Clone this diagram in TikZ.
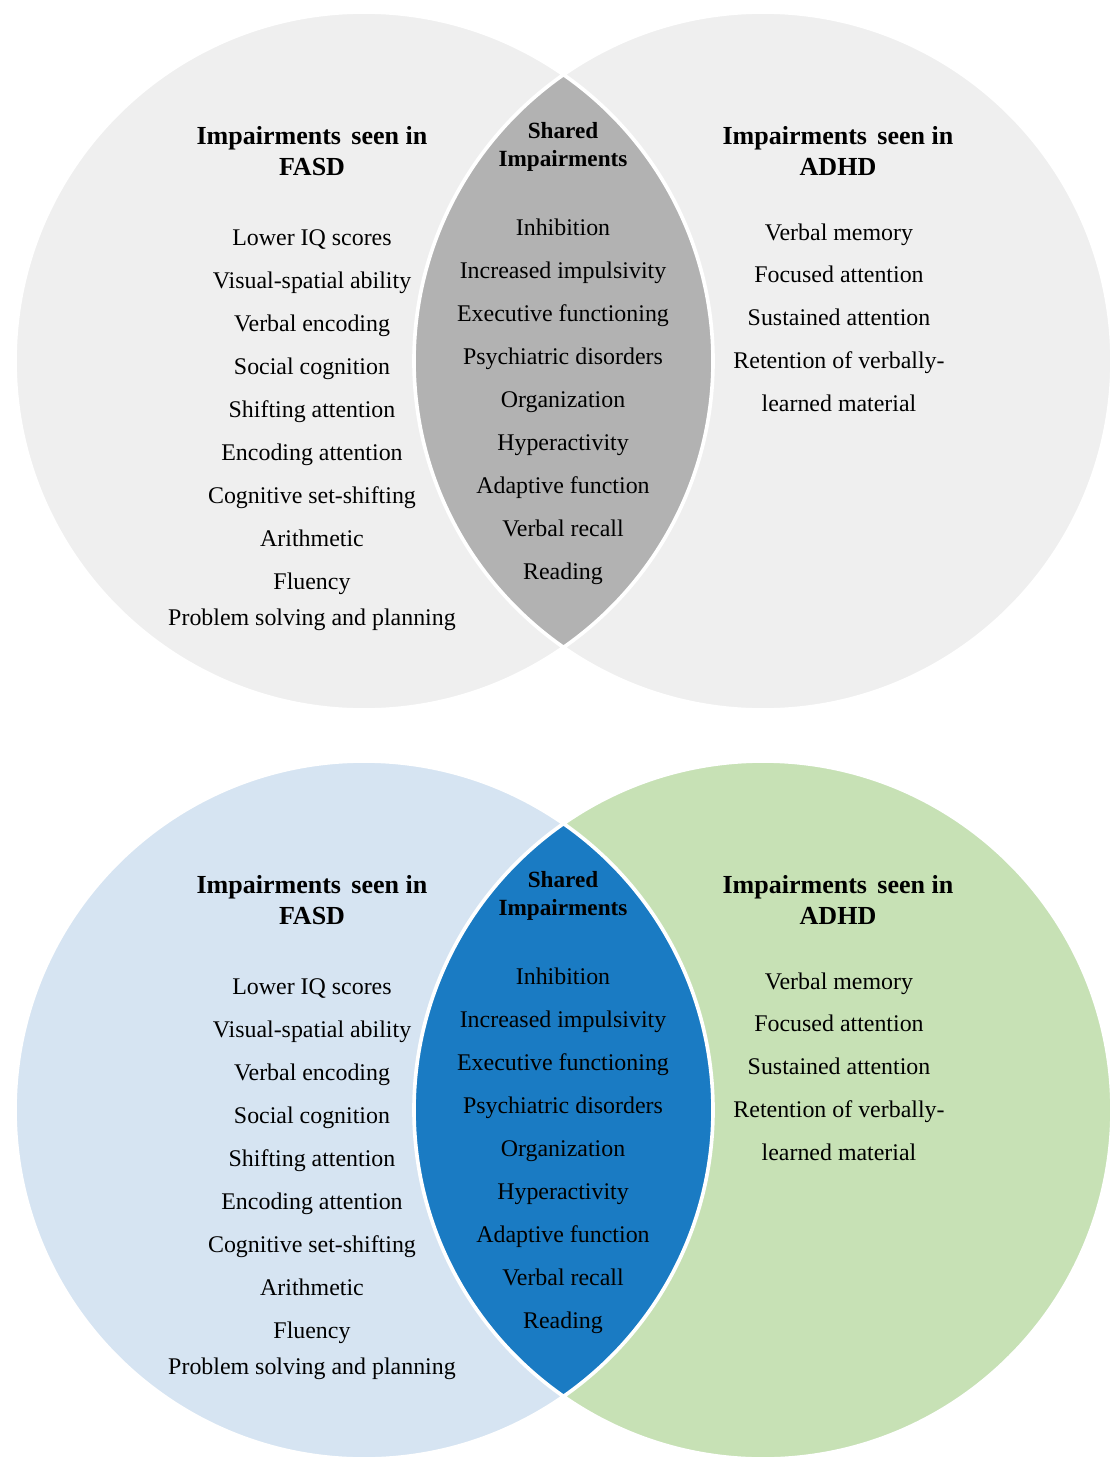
\documentclass[tikz,border=0pt]{standalone}
\usepackage{fontspec}
\setmainfont{Liberation Serif}
\usetikzlibrary{calc}

\definecolor{vennGrey}{HTML}{EFEFEF}
\definecolor{lensGrey}{HTML}{B2B2B2}
\definecolor{vennBlue}{HTML}{D6E4F2}
\definecolor{vennGreen}{HTML}{C7E1B5}
\definecolor{lensBlue}{HTML}{1A7BC3}

\begin{document}
\begin{tikzpicture}[x=0.025cm,y=0.025cm,
    item/.style={font=\fontsize{17}{20}\selectfont,inner sep=0pt,anchor=base},
    sidehead/.style={font=\bfseries\fontsize{18.5}{22}\selectfont,align=center,inner sep=0pt},
    lenshead/.style={font=\bfseries\fontsize{16.5}{19.8}\selectfont,align=center,inner sep=0pt}]

  %%%% Fix the page size %%%%
  \useasboundingbox (0,0) rectangle (1112,-1459);

  \foreach \row/\dy/\lcol/\rcol/\mcol in {top/0/vennGrey/vennGrey/lensGrey,bot/749/vennBlue/vennGreen/lensBlue}{
  \begin{scope}[shift={(0,-\dy)}]

    %% centres of the two circles
    \coordinate (\row-L) at (364,-361);
    \coordinate (\row-R) at (763,-361);

    %% fill the circles and the overlap
    \fill[\lcol] (\row-L) circle [radius=349];
    \fill[\rcol] (\row-R) circle [radius=349];
    \begin{scope}
      \clip (\row-L) circle [radius=349];
      \fill[\mcol] (\row-R) circle [radius=349];
    \end{scope}
    %% white rims
    \draw[white,line width=2.6] (\row-L) circle [radius=349] (\row-R) circle [radius=349];

    %% headings
    \node[sidehead] (\row-fasd) at (312,-151) {Impairments\hspace{.4em}seen in\\FASD};
    \node[lenshead] (\row-shared) at (563,-147) {Shared\\Impairments};
    \node[sidehead] (\row-adhd) at (838,-151) {Impairments\hspace{.4em}seen in\\ADHD};

    %% FASD list
    \foreach \txt [count=\i] in {Lower IQ scores,Visual-spatial ability,Verbal encoding,
        Social cognition,Shifting attention,Encoding attention,Cognitive set-shifting,
        Arithmetic,Fluency}{
      \node[item] (\row-fasd-\i) at (312,{-245-43.1*(\i-1)}) {\txt};
    }
    \node[item] (\row-fasd-10) at (312,-625) {Problem solving and planning};

    %% shared list
    \foreach \txt [count=\i] in {Inhibition,Increased impulsivity,Executive functioning,
        Psychiatric disorders,Organization,Hyperactivity,Adaptive function,
        Verbal recall,Reading}{
      \node[item] (\row-shared-\i) at (563,{-235-43.1*(\i-1)}) {\txt};
    }

    %% ADHD list
    \foreach \txt [count=\i] in {Verbal memory,Focused attention,Sustained attention,
        Retention of verbally-,learned material}{
      \node[item] (\row-adhd-\i) at (839,{-240-42.8*(\i-1)}) {\txt};
    }
  \end{scope}
  }

\end{tikzpicture}
\end{document}
